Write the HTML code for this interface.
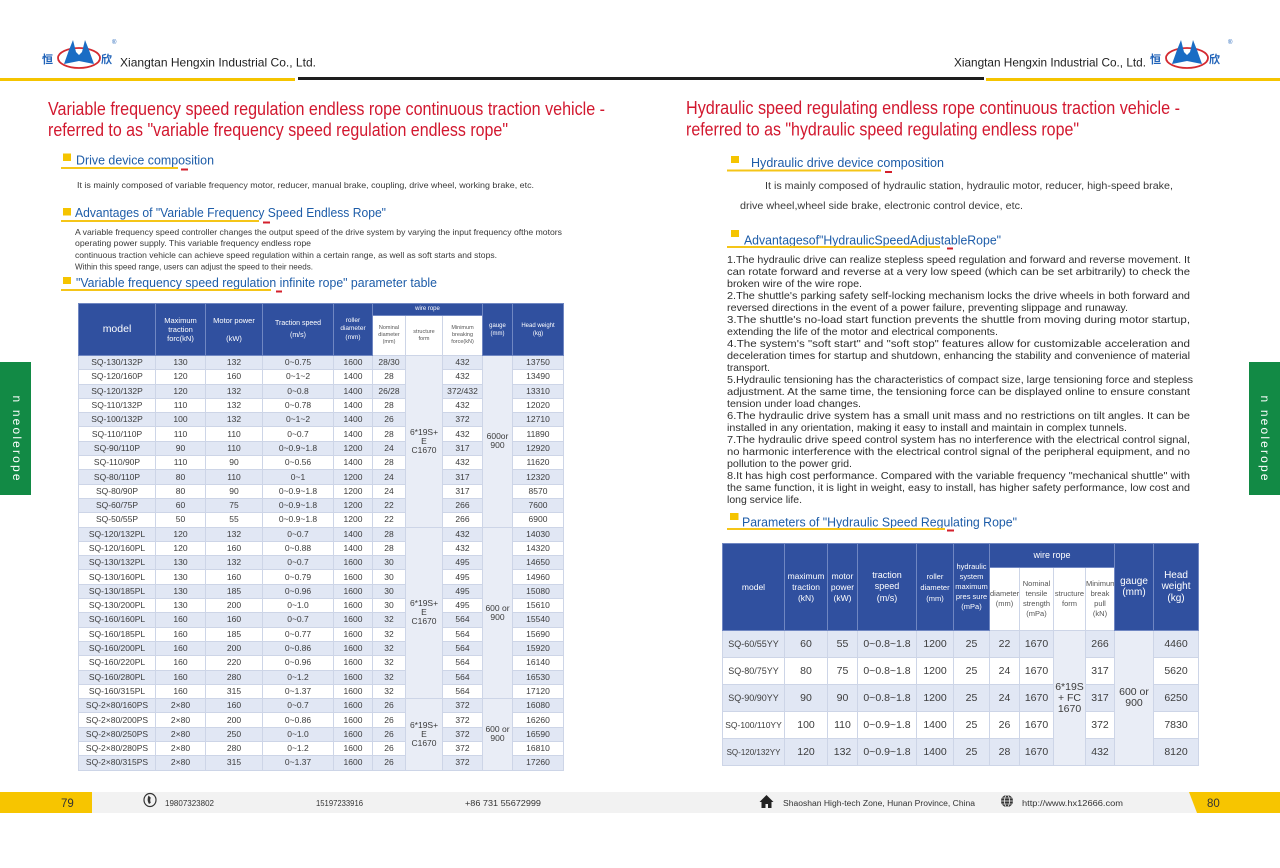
<!DOCTYPE html>
<html><head><meta charset="utf-8">
<style>
html,body{margin:0;padding:0;background:#fff;}
body{width:1280px;height:868px;position:relative;overflow:hidden;font-family:"Liberation Sans","Noto Sans CJK SC",sans-serif;}
svg.bg{position:absolute;left:0;top:0;}
svg text{font-family:"Liberation Sans","Noto Sans CJK SC",sans-serif;}
.t{position:absolute;border-collapse:collapse;table-layout:fixed;color:#3c3c3c;text-align:center;font-family:"Liberation Sans",sans-serif;}
.t td{padding:0;white-space:nowrap;overflow:hidden;vertical-align:middle;border:1px solid #cdd5e7;}
.t td.hd{background:#30509f;color:#fff;border-color:#7087c2;}
.t td.sh{background:#fff !important;color:#555;}
.t tr.a td{background:#e1e7f4;}
.t tr.b td{background:#fff;}
.t td.m{background:#e9edf6 !important;}
.lt td{font-size:8.5px;line-height:9px;}
.lt td.hd{font-size:7.5px;line-height:9px;}
.lt td.sh{font-size:5.5px;line-height:7px;}
.lt tr.r{height:14.3px;}
.rt td{font-size:10.5px;line-height:11px;}
.rt td.hd{font-size:8px;line-height:10.5px;}
.rt td.sh{font-size:7.5px;line-height:10px;}
.rt td.md{font-size:9px;}
.rt tr.r{height:27px;}
</style></head>
<body>
<svg class="bg" width="1280" height="868" viewBox="0 0 1280 868">
<!-- header lines -->
<rect x="0" y="78" width="295" height="3" fill="#f5c400"/>
<rect x="298" y="77" width="686" height="3" fill="#1e1e1e"/>
<rect x="986" y="78" width="294" height="3" fill="#f5c400"/>

<!-- left logo -->
<g>
<text x="42" y="63" font-size="11" font-weight="bold" fill="#1f62b8">恒</text>
<ellipse cx="79" cy="58" rx="21" ry="10" fill="none" stroke="#d42a30" stroke-width="1.8"/>
<polygon points="64,64 69,50 73,40 76,52 79,55 82,52 85,40 89,50 94,64 79,61" fill="#1a6cc4"/>
<text x="101" y="63" font-size="11" font-weight="bold" fill="#1f62b8">欣</text>
<text x="112" y="44" font-size="6" fill="#1f62b8">®</text>
</g>
<text x="120" y="66.5" font-size="12" fill="#222" textLength="196" lengthAdjust="spacingAndGlyphs">Xiangtan Hengxin Industrial Co., Ltd.</text>

<!-- right logo -->
<text x="954" y="66.5" font-size="12" fill="#222" textLength="192" lengthAdjust="spacingAndGlyphs">Xiangtan Hengxin Industrial Co., Ltd.</text>
<g transform="translate(1108,0)">
<text x="42" y="63" font-size="11" font-weight="bold" fill="#1f62b8">恒</text>
<ellipse cx="79" cy="58" rx="21" ry="10" fill="none" stroke="#d42a30" stroke-width="1.8"/>
<polygon points="64,64 69,50 73,40 76,52 79,55 82,52 85,40 89,50 94,64 79,61" fill="#1a6cc4"/>
<text x="101" y="63" font-size="11" font-weight="bold" fill="#1f62b8">欣</text>
</g>
<text x="1228" y="44" font-size="6" fill="#1f62b8">®</text>

<!-- left titles -->
<text x="48" y="115" font-size="18" fill="#d2182f" textLength="557" lengthAdjust="spacingAndGlyphs">Variable frequency speed regulation endless rope continuous traction vehicle -</text>
<text x="48" y="136" font-size="18" fill="#d2182f" textLength="460" lengthAdjust="spacingAndGlyphs">referred to as "variable frequency speed regulation endless rope"</text>

<!-- left heading 1 -->
<rect x="63" y="153.5" width="8" height="7.5" fill="#f5c400"/>
<text x="76" y="164.5" font-size="13" fill="#1d5ca8" textLength="138" lengthAdjust="spacingAndGlyphs">Drive device composition</text>
<rect x="61" y="167" width="117" height="2" fill="#f5c518"/>
<rect x="181" y="168.5" width="7" height="2" fill="#d4202c"/>
<text x="77" y="188" font-size="8.5" fill="#3a3a3a" textLength="457" lengthAdjust="spacingAndGlyphs">It is mainly composed of variable frequency motor, reducer, manual brake, coupling, drive wheel, working brake, etc.</text>

<!-- left heading 2 -->
<rect x="63" y="208" width="8" height="7.5" fill="#f5c400"/>
<text x="75" y="217" font-size="13" fill="#1d5ca8" textLength="311" lengthAdjust="spacingAndGlyphs">Advantages of "Variable Frequency Speed Endless Rope"</text>
<rect x="61" y="220" width="198" height="2" fill="#f5c518"/>
<rect x="263" y="221.5" width="7" height="2" fill="#d4202c"/>
<text x="75" y="235" font-size="8.5" fill="#3a3a3a" textLength="487" lengthAdjust="spacingAndGlyphs">A variable frequency speed controller changes the output speed of the drive system by varying the input frequency ofthe motors</text>
<text x="75" y="246" font-size="8.5" fill="#3a3a3a" textLength="236" lengthAdjust="spacingAndGlyphs">operating power supply. This variable frequency endless rope</text>
<text x="75" y="258" font-size="8.5" fill="#3a3a3a" textLength="422" lengthAdjust="spacingAndGlyphs">continuous traction vehicle can achieve speed regulation within a certain range, as well as soft starts and stops.</text>
<text x="75" y="269.5" font-size="8.5" fill="#3a3a3a" textLength="238" lengthAdjust="spacingAndGlyphs">Within this speed range, users can adjust the speed to their needs.</text>

<!-- left heading 3 -->
<rect x="63" y="277" width="8" height="7" fill="#f5c400"/>
<text x="76" y="287" font-size="13" fill="#1d5ca8" textLength="361" lengthAdjust="spacingAndGlyphs">"Variable frequency speed regulation infinite rope" parameter table</text>
<rect x="61" y="289" width="210" height="2" fill="#f5c518"/>
<rect x="276" y="290.5" width="6" height="2" fill="#d4202c"/>

<!-- right titles -->
<text x="686" y="114" font-size="18" fill="#d2182f" textLength="494" lengthAdjust="spacingAndGlyphs">Hydraulic speed regulating endless rope continuous traction vehicle -</text>
<text x="686" y="135.5" font-size="18" fill="#d2182f" textLength="393" lengthAdjust="spacingAndGlyphs">referred to as "hydraulic speed regulating endless rope"</text>

<!-- right heading 1 -->
<rect x="731" y="156" width="8" height="7" fill="#f5c400"/>
<text x="751" y="167" font-size="13" fill="#1d5ca8" textLength="193" lengthAdjust="spacingAndGlyphs">Hydraulic drive device composition</text>
<rect x="727" y="169.5" width="154" height="2" fill="#f5c518"/>
<rect x="885" y="171" width="7" height="2" fill="#d4202c"/>
<text x="765" y="189" font-size="10" fill="#3a3a3a" textLength="408" lengthAdjust="spacingAndGlyphs">It is mainly composed of hydraulic station, hydraulic motor, reducer, high-speed brake,</text>
<text x="740" y="209" font-size="10" fill="#3a3a3a" textLength="283" lengthAdjust="spacingAndGlyphs">drive wheel,wheel side brake, electronic control device, etc.</text>

<!-- right heading 2 -->
<rect x="731" y="230" width="8" height="7" fill="#f5c400"/>
<text x="744" y="244.5" font-size="13" fill="#1d5ca8" textLength="257" lengthAdjust="spacingAndGlyphs">Advantagesof"HydraulicSpeedAdjustableRope"</text>
<rect x="727" y="246" width="213" height="2" fill="#f5c518"/>
<rect x="947" y="247.5" width="6" height="2" fill="#d4202c"/>

<!-- right paragraph -->
<g font-size="10.5" fill="#2e2e2e">
<text x="727" y="263" textLength="463" lengthAdjust="spacingAndGlyphs">1.The hydraulic drive can realize stepless speed regulation and forward and reverse movement. It</text>
<text x="727" y="275" textLength="463" lengthAdjust="spacingAndGlyphs">can rotate forward and reverse at a very low speed (which can be set arbitrarily) to check the</text>
<text x="727" y="287" textLength="135" lengthAdjust="spacingAndGlyphs">broken wire of the wire rope.</text>
<text x="727" y="299" textLength="463" lengthAdjust="spacingAndGlyphs">2.The shuttle's parking safety self-locking mechanism locks the drive wheels in both forward and</text>
<text x="727" y="311" textLength="401" lengthAdjust="spacingAndGlyphs">reversed directions in the event of a power failure, preventing slippage and runaway.</text>
<text x="727" y="323" textLength="463" lengthAdjust="spacingAndGlyphs">3.The shuttle's no-load start function prevents the shuttle from moving during motor startup,</text>
<text x="727" y="335" textLength="271" lengthAdjust="spacingAndGlyphs">extending the life of the motor and electrical components.</text>
<text x="727" y="347" textLength="463" lengthAdjust="spacingAndGlyphs">4.The system's "soft start" and "soft stop" features allow for customizable acceleration and</text>
<text x="727" y="359" textLength="463" lengthAdjust="spacingAndGlyphs">deceleration times for startup and shutdown, enhancing the stability and convenience of material</text>
<text x="727" y="371" textLength="43" lengthAdjust="spacingAndGlyphs">transport.</text>
<text x="727" y="383" textLength="466" lengthAdjust="spacingAndGlyphs">5.Hydraulic tensioning has the characteristics of compact size, large tensioning force and stepless</text>
<text x="727" y="395" textLength="463" lengthAdjust="spacingAndGlyphs">adjustment. At the same time, the tensioning force can be displayed online to ensure constant</text>
<text x="727" y="407" textLength="134" lengthAdjust="spacingAndGlyphs">tension under load changes.</text>
<text x="727" y="419" textLength="463" lengthAdjust="spacingAndGlyphs">6.The hydraulic drive system has a small unit mass and no restrictions on tilt angles. It can be</text>
<text x="727" y="431" textLength="400" lengthAdjust="spacingAndGlyphs">installed in any orientation, making it easy to install and maintain in complex tunnels.</text>
<text x="727" y="443" textLength="463" lengthAdjust="spacingAndGlyphs">7.The hydraulic drive speed control system has no interference with the electrical control signal,</text>
<text x="727" y="455" textLength="463" lengthAdjust="spacingAndGlyphs">no harmonic interference with the electrical control signal of the peripheral equipment, and no</text>
<text x="727" y="467" textLength="125" lengthAdjust="spacingAndGlyphs">pollution to the power grid.</text>
<text x="727" y="479" textLength="463" lengthAdjust="spacingAndGlyphs">8.It has high cost performance. Compared with the variable frequency "mechanical shuttle" with</text>
<text x="727" y="491" textLength="463" lengthAdjust="spacingAndGlyphs">the same function, it is light in weight, easy to install, has higher safety performance, low cost and</text>
<text x="727" y="503" textLength="75" lengthAdjust="spacingAndGlyphs">long service life.</text>
</g>

<!-- right heading 3 -->
<rect x="730" y="513" width="8.5" height="7" fill="#f5c400"/>
<text x="742" y="526.5" font-size="13" fill="#1d5ca8" textLength="275" lengthAdjust="spacingAndGlyphs">Parameters of "Hydraulic Speed Regulating Rope"</text>
<rect x="727" y="528" width="218" height="2" fill="#f5c518"/>
<rect x="947" y="529.5" width="7" height="2" fill="#d4202c"/>

<!-- green tabs -->
<rect x="0" y="362" width="31" height="133" fill="#128a45"/>
<text transform="translate(13,438) rotate(90)" text-anchor="middle" font-size="12" fill="#fff" textLength="85" lengthAdjust="spacing">n neolerope</text>
<rect x="1249" y="362" width="31" height="133" fill="#128a45"/>
<text transform="translate(1261,438) rotate(90)" text-anchor="middle" font-size="12" fill="#fff" textLength="85" lengthAdjust="spacing">n neolerope</text>

<!-- footer -->
<rect x="0" y="792" width="1280" height="21" fill="#f2f2f2"/>
<rect x="0" y="792" width="92" height="21" fill="#f7c500"/>
<polygon points="1189,792 1280,792 1280,813 1197,813" fill="#f7c500"/>
<text x="61" y="807" font-size="11.5" fill="#333">79</text>
<text x="1207" y="807" font-size="11.5" fill="#333">80</text>
<ellipse cx="150" cy="800" rx="6" ry="6.5" fill="none" stroke="#333" stroke-width="1.2"/>
<path d="M148.5,795.5 q-2,4.5 0.5,8.5 l1.8,-1.2 q-1.2,-2.6 0,-5 z" fill="#333"/>
<text x="165" y="806" font-size="8" fill="#333" textLength="49" lengthAdjust="spacingAndGlyphs">19807323802</text>
<text x="316" y="806" font-size="8" fill="#333" textLength="47" lengthAdjust="spacingAndGlyphs">15197233916</text>
<text x="465" y="806" font-size="8" fill="#333" textLength="76" lengthAdjust="spacingAndGlyphs">+86 731 55672999</text>
<polygon points="759.5,802 766.5,795 773.5,802" fill="#222"/>
<rect x="761.5" y="801" width="10" height="7" fill="#222"/>
<rect x="765.5" y="804" width="2.5" height="4" fill="#f2f2f2"/>
<text x="783" y="806" font-size="8" fill="#333" textLength="192" lengthAdjust="spacingAndGlyphs">Shaoshan High-tech Zone, Hunan Province, China</text>
<circle cx="1007" cy="801" r="6" fill="#333"/>
<ellipse cx="1007" cy="801" rx="2.5" ry="6" fill="none" stroke="#f2f2f2" stroke-width="0.8"/>
<line x1="1001" y1="801" x2="1013" y2="801" stroke="#f2f2f2" stroke-width="0.8"/>
<line x1="1002" y1="798" x2="1012" y2="798" stroke="#f2f2f2" stroke-width="0.6"/>
<line x1="1002" y1="804" x2="1012" y2="804" stroke="#f2f2f2" stroke-width="0.6"/>
<text x="1022" y="806" font-size="8" fill="#333" textLength="101" lengthAdjust="spacingAndGlyphs">http://www.hx12666.com</text>
</svg>

<!-- LEFT TABLE -->
<table class="t lt" style="left:78px;top:303px;width:485px;">
<colgroup><col style="width:77px"><col style="width:50px"><col style="width:57px"><col style="width:71px"><col style="width:39px"><col style="width:33px"><col style="width:37px"><col style="width:40px"><col style="width:30px"><col style="width:51px"></colgroup>
<tr style="height:12px">
<td rowspan="2" class="hd" style="font-size:10.5px">model</td>
<td rowspan="2" class="hd">Maximum<br>traction<br>forc(kN)</td>
<td rowspan="2" class="hd">Motor power<br><br>(kW)</td>
<td rowspan="2" class="hd" style="font-size:7px;line-height:12px">Traction speed<br>(m/s)</td>
<td rowspan="2" class="hd" style="font-size:6.5px;line-height:8.5px">roller<br>diameter<br>(mm)</td>
<td colspan="3" class="hd" style="font-size:6px;line-height:7px">wire rope</td>
<td rowspan="2" class="hd" style="font-size:6px;line-height:8px">gauge<br>(mm)</td>
<td rowspan="2" class="hd" style="font-size:6px;line-height:8px">Head weight<br>(kg)</td>
</tr>
<tr style="height:40px">
<td class="sh">Nominal<br>diameter<br>(mm)</td>
<td class="sh">structure<br>form</td>
<td class="sh">Minimum<br>breaking<br>force(kN)</td>
</tr>
<tr class="r a"><td>SQ-130/132P</td><td>130</td><td>132</td><td>0~0.75</td><td>1600</td><td>28/30</td><td rowspan="12" class="m">6*19S+<br>E<br>C1670</td><td>432</td><td rowspan="12" class="m">600or<br>900</td><td>13750</td></tr>
<tr class="r b"><td>SQ-120/160P</td><td>120</td><td>160</td><td>0~1~2</td><td>1400</td><td>28</td><td>432</td><td>13490</td></tr>
<tr class="r a"><td>SQ-120/132P</td><td>120</td><td>132</td><td>0~0.8</td><td>1400</td><td>26/28</td><td>372/432</td><td>13310</td></tr>
<tr class="r b"><td>SQ-110/132P</td><td>110</td><td>132</td><td>0~0.78</td><td>1400</td><td>28</td><td>432</td><td>12020</td></tr>
<tr class="r a"><td>SQ-100/132P</td><td>100</td><td>132</td><td>0~1~2</td><td>1400</td><td>26</td><td>372</td><td>12710</td></tr>
<tr class="r b"><td>SQ-110/110P</td><td>110</td><td>110</td><td>0~0.7</td><td>1400</td><td>28</td><td>432</td><td>11890</td></tr>
<tr class="r a"><td>SQ-90/110P</td><td>90</td><td>110</td><td>0~0.9~1.8</td><td>1200</td><td>24</td><td>317</td><td>12920</td></tr>
<tr class="r b"><td>SQ-110/90P</td><td>110</td><td>90</td><td>0~0.56</td><td>1400</td><td>28</td><td>432</td><td>11620</td></tr>
<tr class="r a"><td>SQ-80/110P</td><td>80</td><td>110</td><td>0~1</td><td>1200</td><td>24</td><td>317</td><td>12320</td></tr>
<tr class="r b"><td>SQ-80/90P</td><td>80</td><td>90</td><td>0~0.9~1.8</td><td>1200</td><td>24</td><td>317</td><td>8570</td></tr>
<tr class="r a"><td>SQ-60/75P</td><td>60</td><td>75</td><td>0~0.9~1.8</td><td>1200</td><td>22</td><td>266</td><td>7600</td></tr>
<tr class="r b"><td>SQ-50/55P</td><td>50</td><td>55</td><td>0~0.9~1.8</td><td>1200</td><td>22</td><td>266</td><td>6900</td></tr>
<tr class="r a"><td>SQ-120/132PL</td><td>120</td><td>132</td><td>0~0.7</td><td>1400</td><td>28</td><td rowspan="12" class="m">6*19S+<br>E<br>C1670</td><td>432</td><td rowspan="12" class="m">600 or<br>900</td><td>14030</td></tr>
<tr class="r b"><td>SQ-120/160PL</td><td>120</td><td>160</td><td>0~0.88</td><td>1400</td><td>28</td><td>432</td><td>14320</td></tr>
<tr class="r a"><td>SQ-130/132PL</td><td>130</td><td>132</td><td>0~0.7</td><td>1600</td><td>30</td><td>495</td><td>14650</td></tr>
<tr class="r b"><td>SQ-130/160PL</td><td>130</td><td>160</td><td>0~0.79</td><td>1600</td><td>30</td><td>495</td><td>14960</td></tr>
<tr class="r a"><td>SQ-130/185PL</td><td>130</td><td>185</td><td>0~0.96</td><td>1600</td><td>30</td><td>495</td><td>15080</td></tr>
<tr class="r b"><td>SQ-130/200PL</td><td>130</td><td>200</td><td>0~1.0</td><td>1600</td><td>30</td><td>495</td><td>15610</td></tr>
<tr class="r a"><td>SQ-160/160PL</td><td>160</td><td>160</td><td>0~0.7</td><td>1600</td><td>32</td><td>564</td><td>15540</td></tr>
<tr class="r b"><td>SQ-160/185PL</td><td>160</td><td>185</td><td>0~0.77</td><td>1600</td><td>32</td><td>564</td><td>15690</td></tr>
<tr class="r a"><td>SQ-160/200PL</td><td>160</td><td>200</td><td>0~0.86</td><td>1600</td><td>32</td><td>564</td><td>15920</td></tr>
<tr class="r b"><td>SQ-160/220PL</td><td>160</td><td>220</td><td>0~0.96</td><td>1600</td><td>32</td><td>564</td><td>16140</td></tr>
<tr class="r a"><td>SQ-160/280PL</td><td>160</td><td>280</td><td>0~1.2</td><td>1600</td><td>32</td><td>564</td><td>16530</td></tr>
<tr class="r b"><td>SQ-160/315PL</td><td>160</td><td>315</td><td>0~1.37</td><td>1600</td><td>32</td><td>564</td><td>17120</td></tr>
<tr class="r a"><td>SQ-2×80/160PS</td><td>2×80</td><td>160</td><td>0~0.7</td><td>1600</td><td>26</td><td rowspan="5" class="m">6*19S+<br>E<br>C1670</td><td>372</td><td rowspan="5" class="m">600 or<br>900</td><td>16080</td></tr>
<tr class="r b"><td>SQ-2×80/200PS</td><td>2×80</td><td>200</td><td>0~0.86</td><td>1600</td><td>26</td><td>372</td><td>16260</td></tr>
<tr class="r a"><td>SQ-2×80/250PS</td><td>2×80</td><td>250</td><td>0~1.0</td><td>1600</td><td>26</td><td>372</td><td>16590</td></tr>
<tr class="r b"><td>SQ-2×80/280PS</td><td>2×80</td><td>280</td><td>0~1.2</td><td>1600</td><td>26</td><td>372</td><td>16810</td></tr>
<tr class="r a"><td>SQ-2×80/315PS</td><td>2×80</td><td>315</td><td>0~1.37</td><td>1600</td><td>26</td><td>372</td><td>17260</td></tr>
</table>

<!-- RIGHT TABLE -->
<table class="t rt" style="left:722px;top:543px;width:476px;">
<colgroup><col style="width:62px"><col style="width:43px"><col style="width:30px"><col style="width:59px"><col style="width:37px"><col style="width:36px"><col style="width:30px"><col style="width:34px"><col style="width:32px"><col style="width:29px"><col style="width:39px"><col style="width:45px"></colgroup>
<tr style="height:24px">
<td rowspan="2" class="hd" style="font-size:8.5px">model</td>
<td rowspan="2" class="hd" style="font-size:8.5px;line-height:11px">maximum<br>traction<br>(kN)</td>
<td rowspan="2" class="hd" style="font-size:8.5px;line-height:11px">motor<br>power<br>(kW)</td>
<td rowspan="2" class="hd" style="font-size:9px;line-height:11.5px">traction<br>speed<br>(m/s)</td>
<td rowspan="2" class="hd" style="font-size:7.5px;line-height:11px">roller<br>diameter<br>(mm)</td>
<td rowspan="2" class="hd" style="font-size:7.5px;line-height:10px">hydraulic<br>system<br>maximum<br>pres sure<br>(mPa)</td>
<td colspan="4" class="hd" style="font-size:9px">wire rope</td>
<td rowspan="2" class="hd" style="font-size:10px;line-height:11px">gauge<br>(mm)</td>
<td rowspan="2" class="hd" style="font-size:10px;line-height:11.5px">Head<br>weight<br>(kg)</td>
</tr>
<tr style="height:63px">
<td class="sh">diameter<br>(mm)</td>
<td class="sh">Nominal<br>tensile<br>strength<br>(mPa)</td>
<td class="sh">structure<br>form</td>
<td class="sh">Minimum<br>break<br>pull<br>(kN)</td>
</tr>
<tr class="r a"><td class="md">SQ-60/55YY</td><td>60</td><td>55</td><td>0~0.8~1.8</td><td>1200</td><td>25</td><td>22</td><td>1670</td><td rowspan="5" class="m">6*19S<br>+ FC<br>1670</td><td>266</td><td rowspan="5" class="m">600 or<br>900</td><td>4460</td></tr>
<tr class="r b"><td class="md">SQ-80/75YY</td><td>80</td><td>75</td><td>0~0.8~1.8</td><td>1200</td><td>25</td><td>24</td><td>1670</td><td>317</td><td>5620</td></tr>
<tr class="r a"><td class="md">SQ-90/90YY</td><td>90</td><td>90</td><td>0~0.8~1.8</td><td>1200</td><td>25</td><td>24</td><td>1670</td><td>317</td><td>6250</td></tr>
<tr class="r b"><td class="md" style="font-size:8.5px">SQ-100/110YY</td><td>100</td><td>110</td><td>0~0.9~1.8</td><td>1400</td><td>25</td><td>26</td><td>1670</td><td>372</td><td>7830</td></tr>
<tr class="r a"><td class="md" style="font-size:8px">SQ-120/132YY</td><td>120</td><td>132</td><td>0~0.9~1.8</td><td>1400</td><td>25</td><td>28</td><td>1670</td><td>432</td><td>8120</td></tr>
</table>
</body></html>
